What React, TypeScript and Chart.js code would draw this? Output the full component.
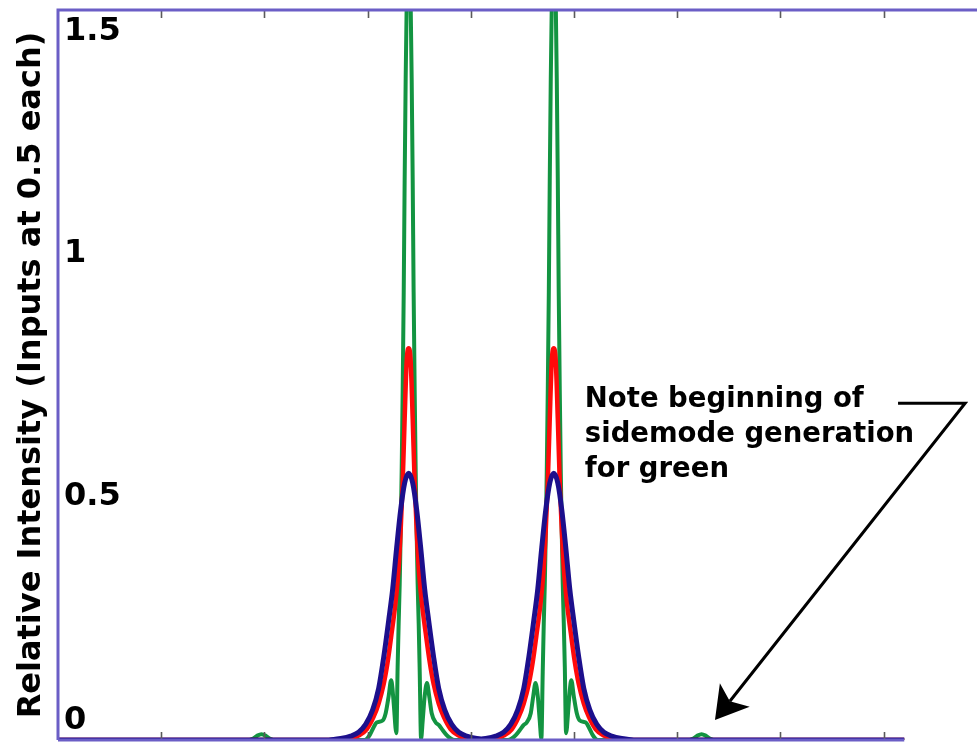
import React, { useEffect, useRef } from 'react';
import { Chart, registerables } from 'chart.js';

Chart.register(...registerables);

// ---- data (x in axis units, tick spacing = 1) ----
const blueX = [0,
  2.622, 2.739, 2.836, 2.913, 2.981, 3.049, 3.107, 3.156, 3.204, 3.243, 3.282, 3.320, 3.359, 3.398,
  3.437, 3.476, 3.514, 3.553, 3.592, 3.640, 3.689, 3.747, 3.815, 3.883, 3.960, 4.057,
  4.101,
  4.145, 4.242, 4.319, 4.387, 4.455, 4.513, 4.562, 4.610, 4.649, 4.688, 4.726, 4.765, 4.804,
  4.843, 4.882, 4.920, 4.959, 4.998, 5.046, 5.095, 5.153, 5.221, 5.289, 5.366, 5.463, 5.580,
  8.2];
const blueY = [0,
  0, 0.003, 0.008, 0.016, 0.032, 0.062, 0.106, 0.17, 0.245, 0.31, 0.396, 0.472, 0.528, 0.548,
  0.528, 0.472, 0.396, 0.31, 0.245, 0.17, 0.106, 0.062, 0.032, 0.016, 0.008, 0.003,
  0.002,
  0.003, 0.008, 0.016, 0.032, 0.062, 0.106, 0.17, 0.245, 0.31, 0.396, 0.472, 0.528, 0.548,
  0.528, 0.472, 0.396, 0.31, 0.245, 0.17, 0.106, 0.062, 0.032, 0.016, 0.008, 0.003, 0,
  0];

const redX = [0,
  2.719, 2.816, 2.913, 2.991, 3.059, 3.107, 3.156, 3.194, 3.233, 3.272, 3.301, 3.320, 3.340, 3.359, 3.379,
  3.398,
  3.417, 3.437, 3.456, 3.476, 3.495, 3.524, 3.563, 3.602, 3.640, 3.689, 3.737, 3.805, 3.883, 3.980, 4.077,
  4.125, 4.222, 4.319, 4.397, 4.465, 4.513, 4.562, 4.600, 4.639, 4.678, 4.707, 4.726, 4.746, 4.765, 4.785,
  4.804,
  4.823, 4.843, 4.862, 4.882, 4.901, 4.930, 4.969, 5.008, 5.046, 5.095, 5.143, 5.211, 5.289, 5.386, 5.483,
  8.2];
const redY = [0,
  0, 0.002, 0.009, 0.022, 0.048, 0.075, 0.115, 0.16, 0.22, 0.285, 0.355, 0.43, 0.53, 0.66, 0.78,
  0.805,
  0.78, 0.66, 0.53, 0.43, 0.355, 0.285, 0.22, 0.16, 0.115, 0.075, 0.048, 0.022, 0.009, 0.002, 0,
  0, 0.002, 0.009, 0.022, 0.048, 0.075, 0.115, 0.16, 0.22, 0.285, 0.355, 0.43, 0.53, 0.66, 0.78,
  0.805,
  0.78, 0.66, 0.53, 0.43, 0.355, 0.285, 0.22, 0.16, 0.115, 0.075, 0.048, 0.022, 0.009, 0.002, 0,
  0];

const greenX = [0,
  1.855, 1.893, 1.932, 1.971, 2.010, 2.049, 2.087,
  2.962, 2.991, 3.020, 3.049, 3.088, 3.146, 3.175, 3.204, 3.228, 3.240, 3.253, 3.279,
  3.291, 3.301, 3.311, 3.320, 3.330, 3.340, 3.350, 3.359, 3.369, 3.383,
  3.398,
  3.413, 3.427, 3.437, 3.446, 3.456, 3.466, 3.476, 3.485, 3.495, 3.505,
  3.518, 3.534, 3.553, 3.575, 3.597, 3.621, 3.660, 3.689, 3.728, 3.766, 3.805, 3.844,
  4.358, 4.397, 4.436, 4.474, 4.513, 4.542, 4.581, 4.605, 4.627, 4.649, 4.668, 4.684,
  4.697, 4.707, 4.717, 4.726, 4.736, 4.746, 4.756, 4.765, 4.775, 4.789,
  4.804,
  4.819, 4.833, 4.843, 4.852, 4.862, 4.872, 4.882, 4.891, 4.901, 4.911,
  4.923, 4.949, 4.962, 4.974, 4.998, 5.027, 5.056, 5.114, 5.153, 5.182, 5.211, 5.240,
  6.120, 6.158, 6.197, 6.236, 6.275, 6.314, 6.352,
  8.2];
const greenY = [0,
  0, 0.003, 0.009, 0.012, 0.009, 0.003, 0,
  0, 0.002, 0.01, 0.022, 0.036, 0.040, 0.055, 0.09, 0.123, 0.108, 0.075, 0.014,
  0.15, 0.24, 0.32, 0.42, 0.55, 0.72, 0.92, 1.15, 1.36, 1.58,
  1.66,
  1.58, 1.36, 1.15, 0.92, 0.72, 0.55, 0.42, 0.32, 0.24, 0.14,
  0.002, 0.04, 0.09, 0.117, 0.09, 0.055, 0.036, 0.031, 0.02, 0.01, 0.003, 0,
  0, 0.003, 0.01, 0.02, 0.031, 0.036, 0.055, 0.09, 0.117, 0.09, 0.04, 0.002,
  0.14, 0.24, 0.32, 0.42, 0.55, 0.72, 0.92, 1.15, 1.36, 1.58,
  1.66,
  1.58, 1.36, 1.15, 0.92, 0.72, 0.55, 0.42, 0.32, 0.24, 0.15,
  0.014, 0.075, 0.108, 0.123, 0.09, 0.055, 0.040, 0.036, 0.022, 0.01, 0.002, 0,
  0, 0.003, 0.009, 0.012, 0.009, 0.003, 0,
  0];

const X_MIN = 0;
const X_MAX = 10;
const Y_MIN = 0;
const Y_MAX = 1.5;
const Y_STEP = 0.5;
const Y_TICK_LABELS = ['0', '0.5', '1', '1.5'];
const Y_TITLE = 'Relative Intensity (Inputs at 0.5 each)';
const NOTE_LINES = ['Note beginning of', 'sidemode generation', 'for green'];
// annotation anchors in data units
const NOTE_POS = { x: 5.105, y: 0.684 };
const ARROW_START = { x: 8.14, y: 0.692 };
const ARROW_CORNER = { x: 8.79, y: 0.692 };
const ARROW_TIP = { x: 6.366, y: 0.041 };
const BOTTOM_BORDER_END = 8.2;

const GREEN = '#139441';
const RED = '#ff0a0a';
const BLUE = '#1c0f8c';
const FRAME = '#6b5ec6';
const FONT = '"DejaVu Sans", "Liberation Sans", Arial, sans-serif';

const toPts = (xs: number[], ys: number[]) => xs.map((x, i) => ({ x, y: ys[i] }));

const framePlugin = {
  id: 'framePlugin',
  afterDatasetsDraw(chart: any) {
    const { ctx, chartArea, scales } = chart;
    const xs = scales.x;
    const ys = scales.y;
    const { left, top, right, bottom } = chartArea;
    ctx.save();

    // inward x ticks, top and bottom
    ctx.strokeStyle = '#5a5a5a';
    ctx.lineWidth = 1.6;
    ctx.beginPath();
    xs.ticks.forEach((t: any) => {
      if (t.value <= X_MIN || t.value >= X_MAX) return;
      const px = Math.round(xs.getPixelForValue(t.value)) + 0.5;
      ctx.moveTo(px, top);
      ctx.lineTo(px, top + 8);
      if (t.value <= BOTTOM_BORDER_END) {
        ctx.moveTo(px, bottom);
        ctx.lineTo(px, bottom - 8);
      }
    });
    ctx.stroke();

    // frame
    ctx.strokeStyle = FRAME;
    ctx.lineWidth = 3;
    ctx.beginPath();
    ctx.moveTo(left, bottom);
    ctx.lineTo(left, top);
    ctx.lineTo(right, top);
    ctx.moveTo(left, bottom);
    ctx.lineTo(xs.getPixelForValue(BOTTOM_BORDER_END), bottom);
    ctx.stroke();

    // y tick labels inside the frame
    ctx.fillStyle = '#000';
    ctx.font = `bold 32px ${FONT}`;
    ctx.textAlign = 'left';
    ctx.textBaseline = 'middle';
    ys.ticks.forEach((t: any, i: number) => {
      const py = ys.getPixelForValue(t.value);
      const cy = Math.min(Math.max(py, top + 21.5), bottom - 19);
      const label = Y_TICK_LABELS[i] ?? String(t.value);
      ctx.fillText(label, left + 6, cy);
    });

    // note text
    ctx.font = `bold 27.5px ${FONT}`;
    ctx.textBaseline = 'alphabetic';
    const nx = xs.getPixelForValue(NOTE_POS.x);
    const ny = ys.getPixelForValue(NOTE_POS.y);
    NOTE_LINES.forEach((line, i) => ctx.fillText(line, nx, ny + i * 35));

    // arrow
    const sx = xs.getPixelForValue(ARROW_START.x);
    const sy = ys.getPixelForValue(ARROW_START.y);
    const cx = xs.getPixelForValue(ARROW_CORNER.x);
    const cyy = ys.getPixelForValue(ARROW_CORNER.y);
    const tx = xs.getPixelForValue(ARROW_TIP.x);
    const ty = ys.getPixelForValue(ARROW_TIP.y);
    const dx = cx - tx;
    const dy = cyy - ty;
    const len = Math.hypot(dx, dy);
    const ux = dx / len;
    const uy = dy / len;
    const pxv = -uy;
    const pyv = ux;
    const headLen = 32;
    const headHalf = 19;
    const notch = 24;
    ctx.strokeStyle = '#000';
    ctx.lineWidth = 3;
    ctx.lineJoin = 'miter';
    ctx.beginPath();
    ctx.moveTo(sx, sy);
    ctx.lineTo(cx, cyy);
    ctx.lineTo(tx + ux * notch, ty + uy * notch);
    ctx.stroke();
    ctx.fillStyle = '#000';
    ctx.beginPath();
    ctx.moveTo(tx, ty);
    ctx.lineTo(tx + ux * headLen + pxv * headHalf, ty + uy * headLen + pyv * headHalf);
    ctx.lineTo(tx + ux * notch, ty + uy * notch);
    ctx.lineTo(tx + ux * headLen - pxv * headHalf, ty + uy * headLen - pyv * headHalf);
    ctx.closePath();
    ctx.fill();

    ctx.restore();
  },
};

export default function App() {
  const ref = useRef<HTMLCanvasElement | null>(null);

  useEffect(() => {
    if (!ref.current) return;
    const common = {
      pointRadius: 0,
      pointHoverRadius: 0,
      fill: false,
      cubicInterpolationMode: 'monotone' as const,
      clip: { left: 0, top: 0, right: 0, bottom: 0 },
    };
    const chart = new Chart(ref.current, {
      type: 'line',
      data: {
        datasets: [
          { ...common, label: 'blue', data: toPts(blueX, blueY), borderColor: BLUE, borderWidth: 5, order: 1 },
          { ...common, label: 'red', data: toPts(redX, redY), borderColor: RED, borderWidth: 4.5, order: 2 },
          { ...common, label: 'green', data: toPts(greenX, greenY), borderColor: GREEN, borderWidth: 4, order: 3 },
        ],
      },
      options: {
        animation: false,
        responsive: false,
        devicePixelRatio: 1,
        events: [],
        layout: { padding: { top: 10, bottom: 2, left: 0, right: 0 } },
        plugins: {
          legend: { display: false },
          tooltip: { enabled: false },
          title: { display: false },
        },
        scales: {
          x: {
            type: 'linear',
            min: X_MIN,
            max: X_MAX,
            ticks: { display: false, stepSize: 1 },
            grid: { display: false },
            border: { display: false },
            afterFit: (s: any) => { s.height = 0; },
          },
          y: {
            type: 'linear',
            min: Y_MIN,
            max: Y_MAX,
            ticks: { display: false, stepSize: Y_STEP },
            grid: { display: false },
            border: { display: false },
            title: {
              display: true,
              text: Y_TITLE,
              color: '#000',
              font: { family: FONT, weight: 'bold', size: 32 },
              padding: { top: 12, bottom: 0 },
            },
            afterFit: (s: any) => { s.width = 58; },
          },
        },
      },
      plugins: [framePlugin],
    });
    return () => chart.destroy();
  }, []);

  return (
    <div style={{ position: 'fixed', left: 0, top: 0, width: 977, height: 742, overflow: 'hidden', background: '#fff' }}>
      <canvas ref={ref} width={1090} height={742} style={{ display: 'block', width: 1090, height: 742 }} />
    </div>
  );
}
